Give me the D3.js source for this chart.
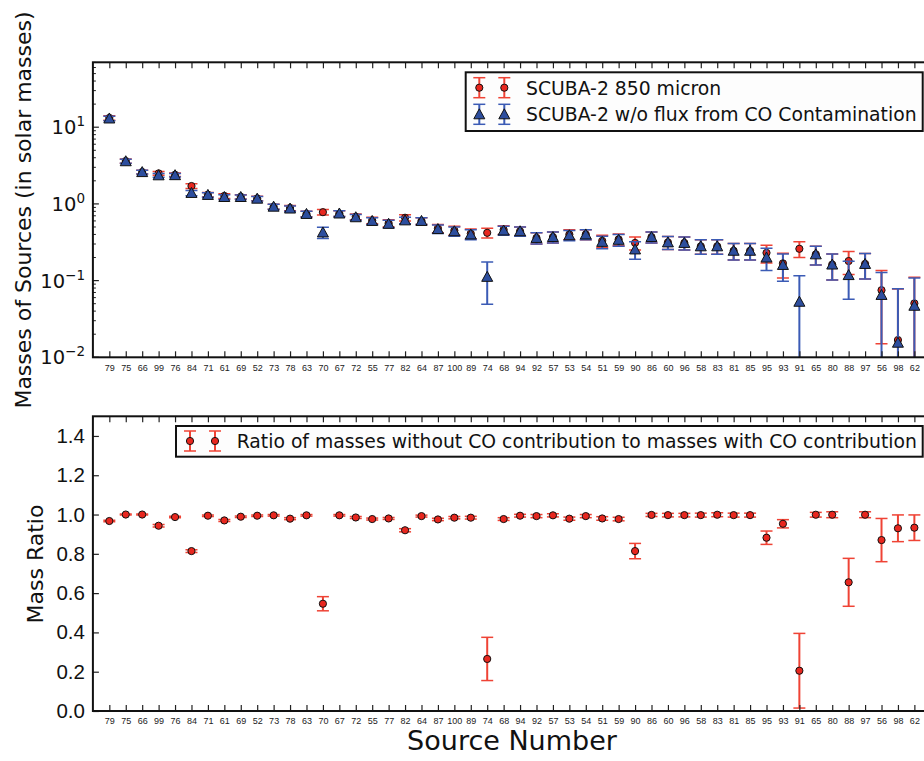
<!DOCTYPE html>
<html>
<head>
<meta charset="utf-8">
<script src="https://cdn.jsdelivr.net/npm/d3@7"></script>
<style>
  body { margin: 0; background: #fff; }
  svg { display: block; font-family: "DejaVu Sans", sans-serif; }
</style>
</head>
<body>
<script>
// source numbers along the x axis
var sources = [79,75,66,99,76,84,71,61,69,52,73,78,63,70,67,72,55,77,82,64,
               87,100,89,74,68,94,92,57,53,54,51,59,90,86,60,96,58,83,81,85,
               95,93,91,65,80,88,97,56,98,62];

// SCUBA-2 850 micron masses (solar masses) and errors
var mass850 = [13.2,3.62,2.6,2.5,2.4,1.71,1.32,1.27,1.24,1.18,
               0.92,0.885,0.74,0.78,0.75,0.68,0.61,0.56,0.66,0.6,
               0.48,0.45,0.41,0.42,0.46,0.44,0.36,0.37,0.40,0.40,
               0.33,0.345,0.31,0.37,0.315,0.31,0.28,0.28,0.245,0.245,
               0.23,0.168,0.26,0.22,0.162,0.18,0.165,0.075,0.0168,0.0505];
var err850 = [0.9,0.22,0.15,0.14,0.13,0.12,0.09,0.09,0.08,0.08,
              0.07,0.07,0.065,0.065,0.065,0.06,0.06,0.06,0.06,0.06,
              0.06,0.06,0.06,0.06,0.06,0.06,0.06,0.06,0.06,0.06,
              0.06,0.06,0.06,0.06,0.06,0.06,0.06,0.06,0.06,0.06,
              0.06,0.06,0.06,0.06,0.06,0.06,0.06,0.06,0.061,0.06];

// SCUBA-2 masses without the CO contamination flux
var massNoCO = [13.0,3.6,2.6,2.36,2.37,1.39,1.31,1.23,1.23,1.17,
                0.92,0.87,0.74,0.425,0.75,0.67,0.6,0.55,0.61,0.6,
                0.47,0.44,0.40,0.112,0.45,0.44,0.36,0.37,0.39,0.40,
                0.32,0.34,0.255,0.37,0.315,0.31,0.28,0.28,0.245,0.245,
                0.2,0.16,0.053,0.22,0.162,0.118,0.165,0.065,0.0155,0.047];
var errNoCO = [0.9,0.22,0.15,0.14,0.13,0.11,0.09,0.09,0.08,0.08,
               0.07,0.07,0.065,0.07,0.065,0.06,0.06,0.06,0.06,0.06,
               0.06,0.06,0.06,0.063,0.06,0.06,0.06,0.06,0.06,0.06,
               0.06,0.06,0.065,0.06,0.06,0.06,0.06,0.06,0.06,0.06,
               0.065,0.062,0.063,0.06,0.06,0.061,0.06,0.063,0.063,0.061];

// ratio of masses (no CO / with CO) and errors
var ratio = [0.967,1.0,1.0,0.943,0.987,0.814,0.994,0.970,0.989,0.994,
             0.996,0.979,0.996,0.546,0.996,0.985,0.977,0.98,0.92,0.992,
             0.975,0.984,0.984,0.265,0.977,0.994,0.992,0.996,0.979,0.992,
             0.98,0.977,0.814,0.998,0.997,0.997,0.997,0.999,0.997,0.997,
             0.882,0.953,0.205,0.999,0.999,0.655,0.999,0.87,0.93,0.933];
var ratioErr = [0.004,0.003,0.003,0.006,0.004,0.007,0.004,0.005,0.004,0.004,
                0.004,0.005,0.004,0.036,0.004,0.005,0.005,0.005,0.008,0.005,
                0.006,0.006,0.007,0.11,0.007,0.007,0.008,0.008,0.008,0.008,
                0.009,0.009,0.039,0.008,0.009,0.009,0.01,0.01,0.01,0.01,
                0.034,0.021,0.19,0.012,0.015,0.122,0.015,0.11,0.068,0.065];

var ratioTicks = [0,0.2,0.4,0.6,0.8,1.0,1.2,1.4];
var massDecades = [0.01,0.1,1,10];

var W = 924, H = 761;
var RED = "#e8271f", REDBAR = "#ef4335", BLUE = "#2d4e9e", BLUEBAR = "#3b5bb5";

var svg = d3.select("body").append("svg")
  .attr("width", W).attr("height", H);

var x = d3.scaleLinear().domain([-1, 50]).range([92.9, 930.8]);

var topY = d3.scaleLog().domain([0.01, 70.2]).range([357.3, 62.3]);
var botY = d3.scaleLinear().domain([0, 1.5]).range([711, 416.3]);

var defs = svg.append("defs");
function clip(id, y) {
  defs.append("clipPath").attr("id", id).append("rect")
    .attr("x", x.range()[0]).attr("y", y.range()[1])
    .attr("width", x.range()[1] - x.range()[0])
    .attr("height", y.range()[0] - y.range()[1]);
}
clip("clipTop", topY);
clip("clipBot", botY);

var tri = "M0,-5.5L5.5,4.5L-5.5,4.5Z";

// vertical error bars with caps; a bar whose low end is off the axis runs to the spine
function bars(g, vals, errs, y, color) {
  var ymin = y.domain()[0];
  vals.forEach(function (d, i) {
    var hi = d + errs[i], lo = d - errs[i];
    g.append("line")
      .attr("x1", x(i)).attr("x2", x(i))
      .attr("y1", y(hi)).attr("y2", lo > ymin ? y(lo) : y.range()[0] + 5)
      .attr("stroke", color).attr("stroke-width", 2);
    var caps = lo > ymin ? [hi, lo] : [hi];
    caps.forEach(function (c) {
      g.append("line")
        .attr("x1", x(i) - 6).attr("x2", x(i) + 6)
        .attr("y1", y(c)).attr("y2", y(c))
        .attr("stroke", color).attr("stroke-width", 1.5);
    });
  });
}

function circles(g, vals, y) {
  g.selectAll(null).data(vals).enter().append("circle")
    .attr("cx", function (d, i) { return x(i); })
    .attr("cy", function (d) { return y(d); })
    .attr("r", 3.6)
    .attr("fill", RED).attr("stroke", "#111").attr("stroke-width", 1);
}

function triangles(g, vals, y) {
  g.selectAll(null).data(vals).enter().append("path")
    .attr("d", tri)
    .attr("transform", function (d, i) { return "translate(" + x(i) + "," + y(d) + ")"; })
    .attr("fill", BLUE).attr("stroke", "#111").attr("stroke-width", 1);
}

function xAxes(y) {
  var b = svg.append("g").attr("transform", "translate(0," + y.range()[0] + ")")
    .call(d3.axisBottom(x).tickValues(d3.range(sources.length))
      .tickSize(-6).tickPadding(6)
      .tickFormat(function (i) { return sources[i]; }));
  b.select(".domain").remove();
  b.selectAll(".tick line").attr("stroke", "#222").attr("stroke-width", 1.2);
  b.selectAll(".tick text").attr("font-size", 9).attr("fill", "#222")
    .attr("y", 7);
  var t = svg.append("g").attr("transform", "translate(0," + y.range()[1] + ")")
    .call(d3.axisTop(x).tickValues(d3.range(sources.length)).tickSize(-6).tickFormat(""));
  t.select(".domain").remove();
  t.selectAll(".tick line").attr("stroke", "#222").attr("stroke-width", 1.2);
}

function frame(y) {
  svg.append("rect")
    .attr("x", x.range()[0]).attr("y", y.range()[1])
    .attr("width", x.range()[1] - x.range()[0])
    .attr("height", y.range()[0] - y.range()[1])
    .attr("fill", "none").attr("stroke", "#111").attr("stroke-width", 2);
}

// ---------- top panel ----------
var gTop = svg.append("g").attr("clip-path", "url(#clipTop)");
bars(gTop, mass850, err850, topY, REDBAR);
circles(gTop, mass850, topY);
bars(gTop, massNoCO, errNoCO, topY, BLUEBAR);
triangles(gTop, massNoCO, topY);

xAxes(topY);

// log y ticks
var minor = [];
massDecades.forEach(function (d) {
  for (var k = 2; k <= 9; k++) { if (d * k <= topY.domain()[1]) minor.push(d * k); }
});
svg.append("g").selectAll("line").data(minor).enter().append("line")
  .attr("x1", x.range()[0]).attr("x2", x.range()[0] + 3)
  .attr("y1", function (d) { return topY(d); }).attr("y2", function (d) { return topY(d); })
  .attr("stroke", "#222").attr("stroke-width", 1);
svg.append("g").selectAll("line").data(massDecades).enter().append("line")
  .attr("x1", x.range()[0]).attr("x2", x.range()[0] + 6)
  .attr("y1", function (d) { return topY(d); }).attr("y2", function (d) { return topY(d); })
  .attr("stroke", "#222").attr("stroke-width", 1.2);
var decLab = svg.append("g").selectAll("text").data(massDecades).enter().append("text")
  .attr("x", 85).attr("y", function (d) { return topY(d) + 7; })
  .attr("text-anchor", "end").attr("font-size", 19.5).attr("fill", "#111");
decLab.append("tspan").text("10");
decLab.append("tspan").attr("dy", -8).attr("font-size", 13.5)
  .text(function (d) { var e = Math.round(Math.log10(d)); return e < 0 ? "\u2212" + (-e) : e; });

frame(topY);

// top legend
var lg = svg.append("g");
lg.append("rect").attr("x", 465.7).attr("y", 72.3).attr("width", 457).attr("height", 58.7)
  .attr("fill", "#fdfdfd").attr("stroke", "#111").attr("stroke-width", 2);
[{ y: 87.7, c: REDBAR, t: "SCUBA-2 850 micron", m: "c" },
 { y: 114.3, c: BLUEBAR, t: "SCUBA-2 w/o flux from CO Contamination", m: "t" }].forEach(function (e) {
  [479.3, 504.3].forEach(function (mx) {
    lg.append("line").attr("x1", mx).attr("x2", mx).attr("y1", e.y - 10).attr("y2", e.y + 10)
      .attr("stroke", e.c).attr("stroke-width", 2);
    [e.y - 10, e.y + 10].forEach(function (cy) {
      lg.append("line").attr("x1", mx - 6).attr("x2", mx + 6).attr("y1", cy).attr("y2", cy)
        .attr("stroke", e.c).attr("stroke-width", 1.5);
    });
    if (e.m === "c") {
      lg.append("circle").attr("cx", mx).attr("cy", e.y).attr("r", 3.6)
        .attr("fill", RED).attr("stroke", "#111");
    } else {
      lg.append("path").attr("d", tri).attr("transform", "translate(" + mx + "," + e.y + ")")
        .attr("fill", BLUE).attr("stroke", "#111");
    }
  });
  lg.append("text").attr("x", 526).attr("y", e.y + 6.8).attr("font-size", 18.8)
    .attr("fill", "#111").text(e.t);
});

// ---------- bottom panel ----------
var gBot = svg.append("g").attr("clip-path", "url(#clipBot)");
bars(gBot, ratio, ratioErr, botY, REDBAR);
circles(gBot, ratio, botY);

xAxes(botY);

var ya = svg.append("g").attr("transform", "translate(" + x.range()[0] + ",0)")
  .call(d3.axisLeft(botY).tickValues(ratioTicks).tickSize(-6).tickPadding(8)
    .tickFormat(d3.format(".1f")));
ya.select(".domain").remove();
ya.selectAll(".tick line").attr("stroke", "#222").attr("stroke-width", 1.2);
ya.selectAll(".tick text").attr("font-size", 20.5).attr("fill", "#111");

frame(botY);

var lb = svg.append("g");
lb.append("rect").attr("x", 176).attr("y", 426).attr("width", 746.7).attr("height", 30.7)
  .attr("fill", "#fdfdfd").attr("stroke", "#111").attr("stroke-width", 2);
[190, 215].forEach(function (mx) {
  lb.append("line").attr("x1", mx).attr("x2", mx).attr("y1", 431).attr("y2", 451)
    .attr("stroke", REDBAR).attr("stroke-width", 2);
  [431, 451].forEach(function (cy) {
    lb.append("line").attr("x1", mx - 6).attr("x2", mx + 6).attr("y1", cy).attr("y2", cy)
      .attr("stroke", REDBAR).attr("stroke-width", 1.5);
  });
  lb.append("circle").attr("cx", mx).attr("cy", 441).attr("r", 3.6)
    .attr("fill", RED).attr("stroke", "#111");
});
lb.append("text").attr("x", 236.7).attr("y", 447.8).attr("font-size", 18.8).attr("fill", "#111")
  .text("Ratio of masses without CO contribution to masses with CO contribution");

// axis titles
svg.append("text").attr("transform", "translate(31,210) rotate(-90)")
  .attr("text-anchor", "middle").attr("font-size", 22).attr("fill", "#111")
  .text("Masses of Sources (in solar masses)");
svg.append("text").attr("transform", "translate(43,564) rotate(-90)")
  .attr("text-anchor", "middle").attr("font-size", 22).attr("fill", "#111")
  .text("Mass Ratio");
svg.append("text").attr("x", 512).attr("y", 750)
  .attr("text-anchor", "middle").attr("font-size", 27).attr("fill", "#111")
  .text("Source Number");
</script>
</body>
</html>
